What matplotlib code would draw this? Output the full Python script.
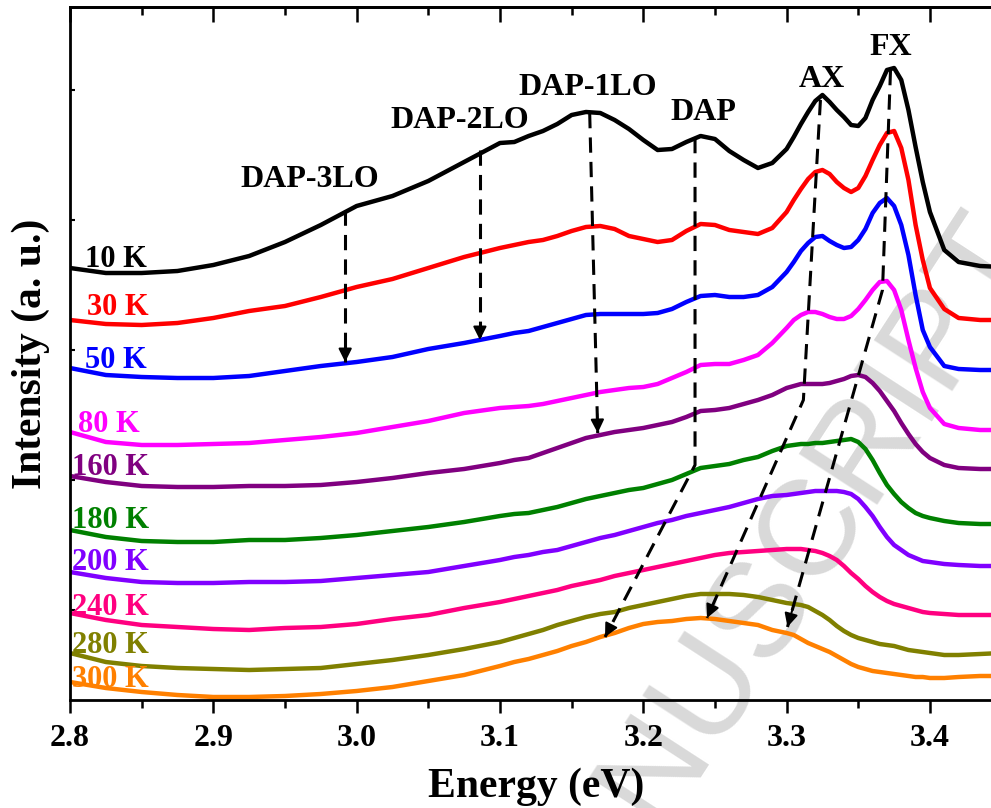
import numpy as np
import matplotlib.pyplot as plt
from matplotlib.ticker import MultipleLocator

plt.rcParams['font.family'] = ['Liberation Serif', 'DejaVu Serif']
plt.rcParams['font.weight'] = 'bold'

# photon energy grid (eV)
energy = [2.80, 2.825, 2.85, 2.875, 2.90, 2.925, 2.95, 2.975, 3.00, 3.025, 3.05, 3.075, 3.10,
          3.11, 3.12, 3.13, 3.14, 3.15, 3.16, 3.17, 3.18, 3.19, 3.20,
          3.21, 3.22, 3.23, 3.24, 3.25, 3.26, 3.27, 3.28, 3.29,
          3.30, 3.305, 3.31, 3.315, 3.32, 3.325, 3.33, 3.335, 3.34, 3.345, 3.35, 3.355,
          3.36, 3.365, 3.37, 3.375, 3.38, 3.385, 3.39, 3.395, 3.40,
          3.41, 3.42, 3.435, 3.45]

# stacked PL spectra (a. u., offsets included)
pl_10K = [432, 427, 427, 429, 435, 444, 458, 475, 494, 504, 519, 538, 557,
          558, 564, 569, 576, 585, 588, 587, 580, 571, 560,
          550, 551, 558, 564, 561, 549, 540, 532, 537,
          551, 563, 576, 588, 599, 605, 598, 590, 583, 575, 574, 582,
          600, 614, 630, 632, 620, 590, 553, 518, 488,
          450, 438, 434, 433]
pl_30K = [380, 376, 375, 377, 382, 389, 394, 403, 413, 421, 432, 443, 452,
          455, 458, 460, 464, 469, 473, 474, 471, 464, 461,
          458, 460, 469, 476, 475, 470, 468, 466, 472,
          488, 500, 511, 521, 528, 530, 526, 518, 512, 508, 512, 524,
          540, 555, 567, 569, 552, 520, 475, 440, 412,
          391, 382, 380, 380]
pl_50K = [332, 325, 323, 322, 322, 324, 329, 334, 338, 343, 351, 357, 364,
          367, 369, 373, 377, 381, 385, 386, 386, 386, 386,
          387, 391, 398, 404, 405, 403, 403, 405, 413,
          428, 438, 449, 457, 463, 464, 459, 455, 452, 453, 460, 471,
          487, 497, 502, 494, 475, 445, 405, 370, 353,
          334, 331, 330, 330]
pl_80K = [268, 258, 255, 255, 256, 257, 260, 263, 267, 273, 279, 287, 292,
          293, 294, 296, 299, 302, 305, 308, 310, 312, 313,
          316, 322, 328, 335, 336, 336, 340, 345, 357,
          372, 380, 385, 388, 388, 386, 383, 381, 381, 384, 391, 400,
          410, 418, 419, 410, 390, 360, 332, 308, 292,
          276, 272, 270, 270]
pl_160K = [224, 218, 214, 213, 213, 214, 214, 215, 218, 222, 227, 231, 237,
           240, 242, 247, 252, 257, 262, 265, 268, 270, 272,
           275, 278, 283, 289, 290, 292, 296, 300, 305,
           312, 314, 316, 316, 316, 316, 317, 319, 321, 324, 325, 323,
           317, 309, 299, 289, 277, 266, 256, 248, 242,
           235, 232, 231, 231]
pl_180K = [170, 163, 159, 158, 158, 160, 160, 162, 165, 169, 173, 178, 184,
           186, 187, 190, 193, 197, 201, 204, 207, 210, 212,
           216, 220, 226, 232, 234, 236, 240, 243, 249,
           254, 255, 256, 256, 257, 257, 258, 259, 260, 261, 258, 251,
           240, 227, 215, 206, 198, 192, 187, 184, 182,
           179, 177, 176, 176]
pl_200K = [128, 122, 118, 117, 117, 118, 118, 119, 122, 125, 128, 134, 140,
           143, 145, 148, 150, 154, 158, 162, 165, 169, 173,
           177, 180, 184, 187, 190, 193, 197, 201, 204,
           205, 206, 207, 208, 209, 209, 209, 209, 208, 206, 201, 193,
           184, 173, 163, 155, 150, 145, 142, 139, 138,
           136, 135, 134, 134]
pl_240K = [87, 80, 75, 73, 71, 70, 72, 73, 76, 81, 85, 92, 98,
           101, 104, 107, 110, 114, 117, 120, 124, 127, 130,
           133, 136, 139, 142, 145, 147, 148, 149, 150,
           151, 151, 151, 150, 149, 147, 144, 140, 134, 127, 121, 114,
           108, 103, 99, 96, 94, 92, 90, 88, 87,
           86, 85, 85, 85]
pl_280K = [47, 38, 34, 32, 31, 30, 31, 32, 36, 40, 45, 51, 58,
           62, 66, 70, 75, 79, 83, 86, 88, 92, 95,
           98, 101, 104, 106, 106, 106, 105, 103, 100,
           97, 96, 95, 93, 89, 85, 80, 74, 69, 65, 62, 60,
           58, 56, 55, 54, 52, 50, 49, 48, 47,
           45, 45, 46, 47]
pl_300K = [18, 12, 8, 5, 3, 3, 4, 6, 9, 13, 19, 25, 34,
           38, 41, 45, 49, 54, 58, 63, 67, 72, 76,
           78, 79, 81, 82, 81, 79, 77, 75, 70,
           67, 65, 61, 57, 54, 51, 48, 44, 40, 36, 33, 31,
           29, 28, 27, 26, 25, 24, 23, 23, 22,
           22, 23, 24, 24]

spectra = [pl_10K, pl_30K, pl_50K, pl_80K, pl_160K, pl_180K, pl_200K, pl_240K, pl_280K, pl_300K]
temp_labels = ['10 K', '30 K', '50 K', '80 K', '160 K', '180 K', '200 K', '240 K', '280 K', '300 K']
colors = ['#000000', '#ff0000', '#0000ff', '#ff00ff', '#800080',
          '#008000', '#8000ff', '#ff0080', '#808000', '#ff8000']
# label anchor (energy, intensity) for each temperature
label_pos = [(2.8105, 433), (2.812, 385), (2.8105, 332), (2.8056, 268), (2.8014, 225),
             (2.8014, 172), (2.8014, 130), (2.8014, 85), (2.8014, 47), (2.8014, 13)]

# peak labels and dashed guide paths (arrow head on the last point)
peak_names = ['DAP-3LO', 'DAP-2LO', 'DAP-1LO', 'DAP', 'AX', 'FX']
peak_text_pos = [(2.9186, 513), (3.0233, 572), (3.1126, 605), (3.2187, 580), (3.3087, 613), (3.3576, 645)]
guide_paths = [
    [(2.992, 490), (2.992, 338)],
    [(3.086, 550), (3.086, 360)],
    [(3.1626, 587), (3.1682, 267)],
    [(3.2361, 562), (3.2361, 235), (3.1733, 63)],
    [(3.3236, 600), (3.3117, 300), (3.2445, 82)],
    [(3.3725, 630), (3.3669, 410), (3.3006, 73)],
]

fig = plt.figure(figsize=(9.91, 8.08), dpi=100)
ax = fig.add_axes([70 / 991, 108 / 808, 931.6 / 991, 693 / 808])

# faint watermark behind the data
ax.text(1.021, 0.709, 'ACCEPTED MANUSCRIPT', transform=fig.transFigure, fontsize=98,
        family='Liberation Sans', fontweight='normal', color='#d9d9d9', rotation=57,
        rotation_mode='anchor', ha='right', va='center', zorder=0.5, clip_on=False)

for y, c in zip(spectra, colors):
    ax.plot(energy, y, color=c, lw=3.2, zorder=2)

for (x, y), t, c in zip(label_pos, temp_labels, colors):
    ax.text(x, y, t, color=c, fontsize=22, fontweight='bold', ha='left', va='baseline', zorder=3)

for (x, y), t in zip(peak_text_pos, peak_names):
    ax.text(x, y, t, color='k', fontsize=23, fontweight='bold', ha='left', va='baseline', zorder=3)

for path in guide_paths:
    xs = [p[0] for p in path]
    ys = [p[1] for p in path]
    ax.plot(xs, ys, color='k', lw=2.2, linestyle=(0, (5, 3)), zorder=4)
    x0, y0 = path[-2]
    x1, y1 = path[-1]
    ax.annotate('', xy=(x1, y1), xytext=(x1 - 0.06 * (x1 - x0), y1 - 0.06 * (y1 - y0)),
                arrowprops=dict(arrowstyle='-|>', color='k', lw=1.5, mutation_scale=20,
                                shrinkA=0, shrinkB=0), zorder=4)

ax.set_xlim(2.8, 3.45)
ax.set_ylim(0, 693)

ax.xaxis.set_minor_locator(MultipleLocator(0.05))
ax.set_xticks([2.8, 2.9, 3.0, 3.1, 3.2, 3.3, 3.4])
ax.set_xticklabels(['2.8', '2.9', '3.0', '3.1', '3.2', '3.3', '3.4'])
ax.tick_params(axis='x', which='major', direction='out', length=9.5, width=1.8,
               labelsize=23, pad=8)
ax.tick_params(axis='x', which='minor', direction='out', length=6, width=1.8)
ax.set_yticks([90, 220, 350, 480, 610])
ax.tick_params(axis='y', which='major', direction='in', length=3.5, width=1.5, labelleft=False)

top = ax.secondary_xaxis('top')
top.xaxis.set_major_locator(MultipleLocator(0.1))
top.xaxis.set_minor_locator(MultipleLocator(0.05))
top.tick_params(which='major', direction='in', length=11, width=1.8, labeltop=False)
top.tick_params(which='minor', direction='in', length=6, width=1.8)

for s in ax.spines.values():
    s.set_linewidth(2)
top.spines['top'].set_linewidth(2)

ax.set_xlabel('Energy (eV)', fontsize=30, fontweight='bold', labelpad=10)
ax.set_ylabel('Intensity (a. u.)', fontsize=30, fontweight='bold')
ax.yaxis.set_label_coords(-0.021, 0.5)

fig.savefig('out.png', dpi=100)
